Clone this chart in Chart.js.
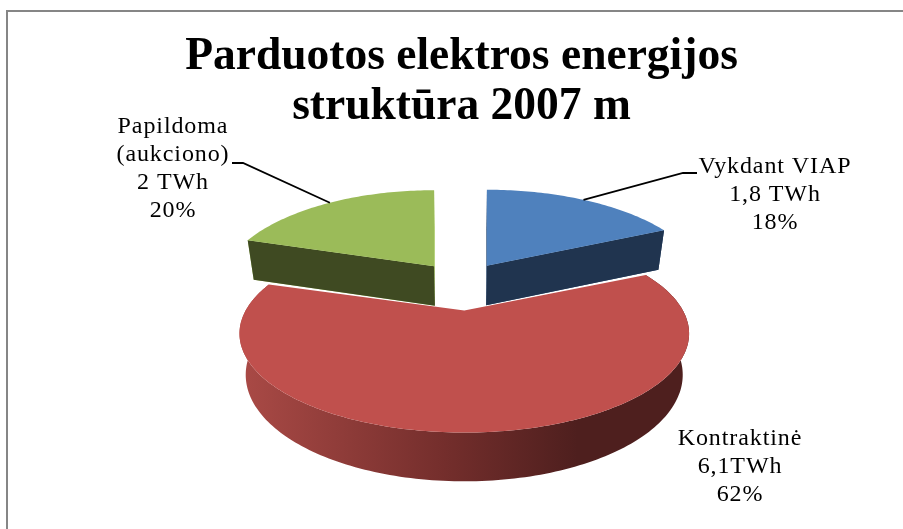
<!DOCTYPE html>
<html>
<head>
<meta charset="utf-8">
<style>
  html, body { margin: 0; background: #fff; overflow: hidden; }
  #wrap { position: relative; width: 903px; height: 529px; }
  #frame { position: absolute; left: 6px; top: 10px; width: 920px; height: 560px; border: 2px solid #868686; }
  canvas { position: absolute; left: 0; top: 0; filter: blur(0.45px); }
</style>
</head>
<body>
<div id="wrap">
  <div id="frame"></div>
  <canvas id="grafikas" width="903" height="529"></canvas>
</div>
<script src="https://cdn.jsdelivr.net/npm/chart.js@4"></script>
<script>
const categories = ['Vykdant VIAP', 'Kontraktinė', 'Papildoma (aukciono)'];
const valuesTWh = [1.8, 6.1, 2];
const valueLabels = ['1,8 TWh', '6,1TWh', '2 TWh'];
const percentLabels = ['18%', '62%', '20%'];
const titleLines = ['Parduotos elektros energijos', 'struktūra 2007 m'];

const faceColors = ['#4f81bd', '#c0504d', '#9bbb59'];
const wallColors = ['#20344f', '#4e1f1e', '#3f4a22'];
const innerColors = ['#2c4d75', '#4e1f1e', '#a9ca62'];
const explode = [46, 36, 47];
const depthScale = [0.962, 0.985, 0.94];

// 3d look: the arcs of the pie are projected on a tilted plane
const view = { cx: 462, cy: 289, a: 222, b: 93.7, p: 0.232, h: 39.5, shrink: 0.972, ky: 0.6 };
const serif = '"Liberation Serif", "Times New Roman", serif';

function shiftOf(arc) {
  const mid = (arc.startAngle + arc.endAngle) / 2 + Math.PI / 2;
  return {
    x: view.cx + arc.options.offset * Math.sin(mid),
    y: view.cy - arc.options.offset * Math.cos(mid) * view.ky
  };
}

function topPoint(arc, r, theta, scale) {
  const s = shiftOf(arc);
  const Y = -r * Math.cos(theta);
  const w = 1 - view.p * Y;
  return { x: s.x + scale * view.a * r * Math.sin(theta) / w, y: s.y + view.b * Y / w, w: w };
}

function bottomPoint(pt) {
  return {
    x: view.cx + (pt.x - view.cx) * view.shrink,
    y: pt.y + view.h / Math.pow(Math.min(pt.w, 1), 0.8),
    w: pt.w
  };
}

function rimPoints(arc, scale) {
  const from = arc.startAngle + Math.PI / 2;
  const to = arc.endAngle + Math.PI / 2;
  const n = Math.ceil((to - from) / 0.02);
  const pts = [];
  for (let i = 0; i <= n; i++) {
    pts.push(topPoint(arc, 1, from + (to - from) * i / n, scale));
  }
  return pts;
}

function fillPoly(ctx, pts, fill) {
  ctx.beginPath();
  pts.forEach((p, i) => i ? ctx.lineTo(p.x, p.y) : ctx.moveTo(p.x, p.y));
  ctx.closePath();
  ctx.fillStyle = fill;
  ctx.fill();
}

function radialWall(ctx, arc, theta, scale, fill) {
  const tip = topPoint(arc, 0, 0, scale);
  const end = topPoint(arc, 1, theta, scale);
  fillPoly(ctx, [tip, end, bottomPoint(end), bottomPoint(tip)], fill);
}

function drawSlice(ctx, arc, i) {
  const scale = depthScale[i];
  const rim = rimPoints(arc, scale);
  const tip = topPoint(arc, 0, 0, scale);
  const startT = arc.startAngle + Math.PI / 2;
  const endT = arc.endAngle + Math.PI / 2;
  if (i === 1) {
    // kontraktine: front wall, light on the left and dark to the right
    const grad = ctx.createLinearGradient(view.cx - 222, 0, view.cx + 222, 0);
    grad.addColorStop(0, '#aa4a46');
    grad.addColorStop(0.46, '#742e2c');
    grad.addColorStop(0.76, '#4e1f1e');
    grad.addColorStop(1, '#4e1f1e');
    fillPoly(ctx, rim.concat(rim.map(bottomPoint).reverse()), grad);
  } else {
    radialWall(ctx, arc, startT, scale, innerColors[i]);
    radialWall(ctx, arc, endT, scale, innerColors[i]);
    radialWall(ctx, arc, i === 0 ? endT : startT, scale, wallColors[i]);
  }
  fillPoly(ctx, [tip].concat(rim), arc.options.backgroundColor);
}

// text blocks and their leader lines
const labelBoxes = [
  { x: 775, y: 173, lines: ['Vykdant VIAP', valueLabels[0], percentLabels[0]], knee: [683, 173], end: [697, 173] },
  { x: 740, y: 445, lines: ['Kontraktinė', valueLabels[1], percentLabels[1]] },
  { x: 173, y: 133, lines: ['Papildoma', '(aukciono)', valueLabels[2], percentLabels[2]], knee: [243, 163], end: [232, 163] }
];

const pie3d = {
  id: 'pie3d',
  beforeDatasetsDraw(chart) {
    const ctx = chart.ctx;
    const arcs = chart.getDatasetMeta(0).data;
    ctx.save();
    [0, 2, 1].forEach(i => drawSlice(ctx, arcs[i], i));
    ctx.restore();
    return false;
  },
  afterDraw(chart) {
    const ctx = chart.ctx;
    const arcs = chart.getDatasetMeta(0).data;
    ctx.save();
    labelBoxes.forEach((box, i) => {
      if (box.knee) {
        const mid = (arcs[i].startAngle + arcs[i].endAngle) / 2 + Math.PI / 2;
        const start = topPoint(arcs[i], 1, mid, depthScale[i]);
        ctx.beginPath();
        ctx.moveTo(start.x, start.y);
        ctx.lineTo(box.knee[0], box.knee[1]);
        ctx.lineTo(box.end[0], box.end[1]);
        ctx.strokeStyle = '#000';
        ctx.lineWidth = 1.8;
        ctx.stroke();
      }
      ctx.font = '24px ' + serif;
      ctx.letterSpacing = '0.9px';
      ctx.fillStyle = '#000';
      ctx.textAlign = 'center';
      ctx.textBaseline = 'alphabetic';
      box.lines.forEach((line, k) => ctx.fillText(line, box.x, box.y + k * 28));
    });
    ctx.restore();
  }
};

new Chart(document.getElementById('grafikas'), {
  type: 'pie',
  data: {
    labels: categories,
    datasets: [{
      data: valuesTWh,
      backgroundColor: faceColors,
      offset: explode,
      borderWidth: 0
    }]
  },
  options: {
    responsive: false,
    animation: false,
    layout: { padding: { left: 20 } },
    plugins: {
      legend: { display: false },
      tooltip: { enabled: false },
      title: {
        display: true,
        text: titleLines,
        color: '#000',
        font: { family: serif, size: 45.5, weight: 'bold', lineHeight: 1.1 },
        padding: { top: 32, bottom: 10 }
      }
    }
  },
  plugins: [pie3d]
});
</script>
</body>
</html>
